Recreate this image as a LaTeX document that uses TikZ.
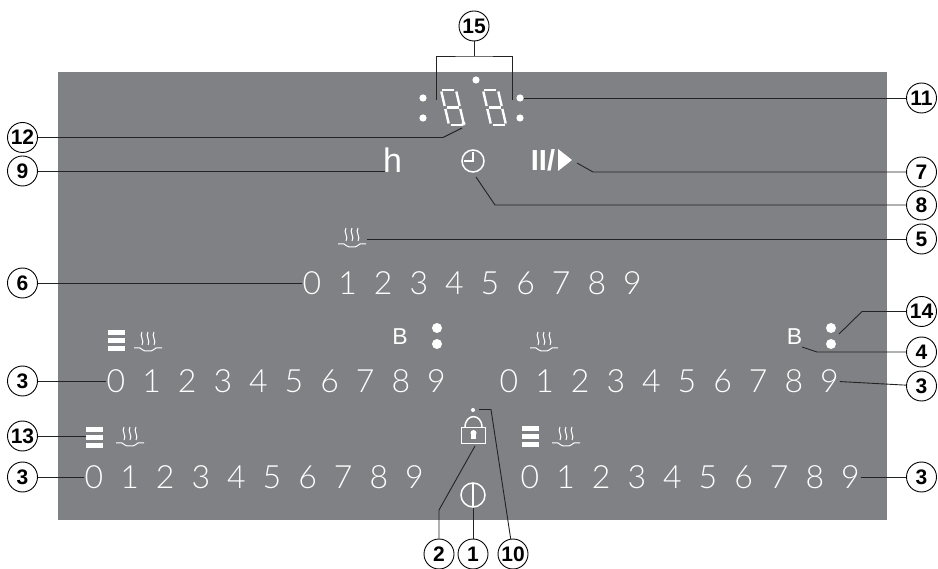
\documentclass[tikz,border=0pt]{standalone}
\usepackage{fontspec}
\setmainfont{Liberation Sans}
\newfontfamily\lightdigits{Lato Light}
\usetikzlibrary{positioning,calc}
\definecolor{panelgray}{RGB}{128,129,132}
\definecolor{leadergray}{RGB}{35,35,35}

\begin{document}
\begin{tikzpicture}[
    x=1pt, y=-1pt,
    callout/.style={draw, circle, line width=0.9pt, fill=white, minimum size=30pt, inner sep=0pt, font=\fontsize{21}{21}\selectfont\bfseries},
    leader/.style={draw=leadergray, line width=0.9pt},
    scaledigit/.style={text=white, inner sep=1pt, font=\fontsize{32}{32}\selectfont\lightdigits},
    letter/.style={text=white, inner sep=0pt},
    whitedot/.style={fill=white},
    outline/.style={draw=white, line width=1.5pt},
    steam/.pic={
        \foreach \sx in {-6,0,6}
            \draw[white, line width=1pt] (\sx,-16) .. controls (\sx-3,-12) and (\sx+3,-7) .. (\sx,-3);
        \draw[white, line width=1pt] (-14,0) -- (-8,0) .. controls (-6,0) and (-6,3) .. (-3,3) -- (3,3) .. controls (6,3) and (6,0) .. (8,0) -- (14,0);
    },
    levelbars/.pic={
        \foreach \by in {0,8,16}
            \fill[white] (0,\by) rectangle (17,\by+5.5);
    },
    segdigit/.pic={
        \begin{scope}[xslant=-0.23, white, line width=2.4pt]
        \draw (-6,-17.5) -- (6,-17.5);
        \draw (-6,0) -- (6,0);
        \draw (-6,17.5) -- (6,17.5);
        \foreach \sx in {-7.5,7.5} {
            \draw (\sx,-16) -- (\sx,-1.5);
            \draw (\sx,1.5) -- (\sx,16);
        }
        \end{scope}
    }
]
\useasboundingbox (0,0) rectangle (938,569);
\fill[panelgray] (58,72) rectangle (887,520);

% time display
\pic at (452.5,107.5) {segdigit};
\pic at (494.5,107.5) {segdigit};
\fill[whitedot] (423,98) circle (3.6);
\fill[whitedot] (423,118) circle (3.6);
\fill[whitedot] (476,80) circle (3.6);
\fill[whitedot] (520,118) circle (3.6);
\node[circle, whitedot, minimum size=7.2pt, inner sep=0pt] (dot11) at (520,98) {};
\fill[whitedot] (463.5,123.5) circle (2);
\coordinate (dot12) at (462,128);

% symbols
\node[letter, font=\fontsize{34}{34}\selectfont] (hour) at (392.5,160) {h};
\coordinate (hourleft) at (385,171);
\draw[outline] (473,161) circle (11);
\draw[white, line width=1.2pt] (473,152) -- (473,161) -- (464,161);
\coordinate (clock) at (476,177);
\node[letter, font=\fontsize{29}{29}\selectfont\bfseries] (pause) at (543,160) {II/};
\fill[white] (558,149) -- (572,160) -- (558,171) -- cycle;
\coordinate (play) at (577,163);

% hob scales
\foreach \sx/\sy/\sname in {312/283/mid, 116/381/left, 509/381/right, 94/477/lowleft, 530/477/lowright}
    \foreach \d in {0,...,9}
        \node[scaledigit] (\sname\d) at ({\sx+35.6*\d},\sy) {\d};

\pic at (352,244) {steam};
\coordinate (steamtop) at (367,239);
\pic at (148,348) {steam};
\pic at (108,330) {levelbars};
\pic at (544,348) {steam};
\pic at (130,443) {steam};
\pic at (86,427) {levelbars};
\coordinate (bars13) at (86,436);
\pic at (566,443) {steam};
\pic at (522,426) {levelbars};

% booster
\node[letter, font=\fontsize{23}{23}\selectfont] (leftB) at (400,337) {B};
\fill[whitedot] (437,328) circle (5);
\fill[whitedot] (437,344) circle (5);
\node[letter, font=\fontsize{23}{23}\selectfont] (rightB) at (794.5,336.5) {B};
\fill[whitedot] (831,328) circle (5);
\fill[whitedot] (831,344) circle (5);
\coordinate (boost14) at (839,334);
\coordinate (boost4) at (802,347);

% lock and power
\fill[whitedot] (473,410) circle (2);
\coordinate (dot10) at (479,409.5);
\draw[outline] (461.5,427.5) rectangle (485.5,443.5);
\draw[outline] (465,427.5) .. controls (465,413) and (482,413) .. (482,427.5);
\fill[white] (473.5,433) circle (3);
\fill[white] (471,434) rectangle (476,439);
\coordinate (lock) at (475,446);
\draw[outline] (473,495) circle (12);
\draw[white, line width=1.2pt] (473,484) -- (473,506);
\coordinate (power) at (473,508);

% numbered callouts
\node[callout] (c15) at (474,26) {15};
\node[callout] (c11) at (921.5,98) {11};
\node[callout] (c12) at (22.5,137.5) {12};
\node[callout] (c9) at (22.5,171) {9};
\node[callout] (c7) at (921.5,172) {7};
\node[callout] (c8) at (921.5,205) {8};
\node[callout] (c5) at (921.5,239) {5};
\node[callout] (c6) at (22.5,283) {6};
\node[callout] (c14) at (921.5,311.5) {14};
\node[callout] (c4) at (921.5,352) {4};
\node[callout] (c3r) at (921.5,386) {3};
\node[callout] (c3l) at (22.5,381) {3};
\node[callout] (c13) at (22.5,436) {13};
\node[callout] (c3m) at (22.5,477) {3};
\node[callout] (c3n) at (921.5,477) {3};
\node[callout] (c2) at (439,554) {2};
\node[callout] (c1) at (473,554) {1};
\node[callout] (c10) at (513,554) {10};

\coordinate (br) at (474,56);
\coordinate (brl) at (436,100);
\coordinate (brr) at (512,100);
\draw[leader] (c15) -- (br);
\draw[leader] (brl) |- (br) -| (brr);
\draw[leader] (dot11) -- (c11);
\draw[leader] (dot12) -- (443,137.5) -- (c12);
\draw[leader] (hourleft) -- (c9);
\draw[leader] (play) -- (593,172) -- (c7);
\draw[leader] (clock) -- (495,205) -- (c8);
\draw[leader] (steamtop) -- (c5);
\draw[leader] (mid0) -- (c6);
\draw[leader] (boost14) -- (862,311.5) -- (c14);
\draw[leader] (boost4) -- (817,352) -- (c4);
\draw[leader] (right9) -- (c3r);
\draw[leader] (left0) -- (c3l);
\draw[leader] (bars13) -- (c13);
\draw[leader] (lowleft0) -- (c3m);
\draw[leader] (lowright9) -- (c3n);
\draw[leader] (lock) -- (439,510) -- (c2);
\draw[leader] (power) -- (c1);
\draw[leader] (dot10) -- (491,409.5) -- (c10);
\end{tikzpicture}
\end{document}
